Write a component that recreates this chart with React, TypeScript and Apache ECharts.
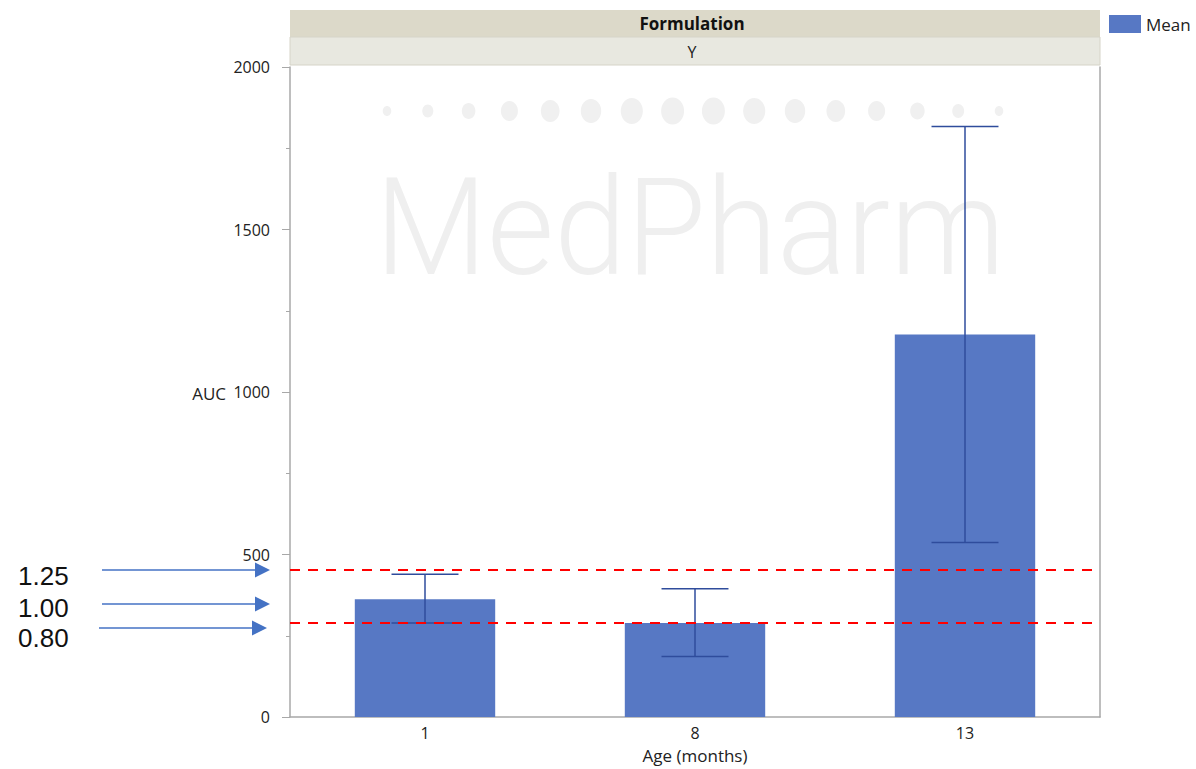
import React, { useEffect, useRef } from "react";
import * as echarts from "echarts";

const categories = ["1", "8", "13"];
const means = [362, 289, 1177];
const errLow = [289, 186, 537];
const errHigh = [439, 395, 1817];
const refLines = [453, 290];
const ratioLabels = ["1.25", "1.00", "0.80"];
const yTicks = { min: 0, max: 2000, interval: 500 };

const FONT = "'Open Sans', 'Noto Sans', sans-serif";
const BAR = "#5778c4";
const ERR = "#2f4c9c";
const ARROW = "#4472c4";

export default function App() {
  const ref = useRef<HTMLDivElement>(null);
  useEffect(() => {
    if (!ref.current) return;
    const chart = echarts.init(ref.current, null, { renderer: "svg" });

    const dotR = [5, 6.5, 8, 10, 11, 12, 13, 13.5, 13.5, 13, 12, 11, 10, 8.5, 7, 5];
    const dots = dotR.map((r, i) => ({
      type: "ellipse",
      silent: true,
      z: -10,
      shape: { cx: 387 + i * 40.8, cy: 111, rx: r * 0.85, ry: r },
      style: { fill: "#f0f0f0" },
    }));

    const arrowY = [570, 604, 628];
    const labelY = [576, 608, 638];
    const arrows: any[] = [];
    ratioLabels.forEach((lab, i) => {
      const y = arrowY[i];
      const x0 = i === 2 ? 99 : 102;
      const tip = i === 2 ? 267 : 270;
      arrows.push({
        type: "text",
        style: {
          text: lab,
          x: 18,
          y: labelY[i],
          fill: "#111",
          font: `26px 'Liberation Sans', Arial, sans-serif`,
          textVerticalAlign: "middle",
        },
      });
      arrows.push({
        type: "line",
        shape: { x1: x0, y1: y, x2: tip - 14, y2: y },
        style: { stroke: ARROW, lineWidth: 1.5 },
      });
      arrows.push({
        type: "polygon",
        shape: { points: [[tip - 15, y - 7.5], [tip, y], [tip - 15, y + 7.5]] },
        style: { fill: ARROW },
      });
    });

    const option: any = {
      animation: false,
      textStyle: { fontFamily: FONT },
      grid: { left: 290, right: 96, top: 67, bottom: 51, containLabel: false },
      legend: {
        left: 1109,
        top: 15,
        padding: 0,
        itemWidth: 32,
        itemHeight: 18,
        itemGap: 4,
        textStyle: { fontSize: 17, color: "#222", fontFamily: FONT },
        data: [{ name: "Mean", icon: "rect" }],
      },
      xAxis: {
        type: "category",
        data: categories,
        axisLine: { show: true, lineStyle: { color: "#a8a8a8", width: 1.5 } },
        axisTick: { show: false },
        axisLabel: { fontSize: 16, color: "#222", margin: 8 },
        name: "Age (months)",
        nameLocation: "middle",
        nameGap: 30,
        nameTextStyle: { fontSize: 17, color: "#222" },
      },
      yAxis: [
        {
          type: "value",
          min: yTicks.min,
          max: yTicks.max,
          interval: yTicks.interval,
          axisLine: { show: true, lineStyle: { color: "#a8a8a8", width: 1.5 } },
          axisTick: { show: true, length: 8, lineStyle: { color: "#a8a8a8" } },
          minorTick: { show: true, splitNumber: 2, length: 4, lineStyle: { color: "#a8a8a8" } },
          axisLabel: { fontSize: 16, color: "#222", margin: 20, formatter: (v: number) => String(v) },
          splitLine: { show: false },
        },
        {
          type: "value",
          position: "right",
          min: yTicks.min,
          max: yTicks.max,
          interval: yTicks.interval,
          axisLine: { show: true, lineStyle: { color: "#a8a8a8", width: 1.5 } },
          axisTick: { show: false },
          axisLabel: { show: false },
          splitLine: { show: false },
        },
      ],
      series: [
        {
          name: "Mean",
          type: "bar",
          data: means,
          barWidth: "52%",
          itemStyle: { color: BAR },
          z: 2,
        },
        {
          name: "Error",
          type: "custom",
          z: 3,
          data: categories.map((_, i) => [i, errLow[i], errHigh[i]]),
          renderItem: (params: any, api: any) => {
            const c = api.value(0);
            const lo = api.coord([c, api.value(1)]);
            const hi = api.coord([c, api.value(2)]);
            const half = api.size([1, 0])[0] * 0.124;
            const st = { stroke: ERR, lineWidth: 1.5 };
            return {
              type: "group",
              children: [
                { type: "line", shape: { x1: hi[0], y1: hi[1], x2: lo[0], y2: lo[1] }, style: st },
                { type: "line", shape: { x1: hi[0] - half, y1: hi[1], x2: hi[0] + half, y2: hi[1] }, style: st },
                { type: "line", shape: { x1: lo[0] - half, y1: lo[1], x2: lo[0] + half, y2: lo[1] }, style: st },
              ],
            };
          },
          markLine: {
            silent: true,
            symbol: "none",
            label: { show: false },
            lineStyle: { color: "#ff0000", type: [10, 8], width: 2 },
            data: refLines.map((v) => ({ yAxis: v })),
          },
        },
      ],
      graphic: [
        ...dots,
        {
          type: "text",
          silent: true,
          z: -10,
          x: 375,
          y: 295,
          scaleX: 0.96,
          style: {
            text: "MedPharm",
            fill: "#efefef",
            font: `300 135px Roboto, sans-serif`,
            textVerticalAlign: "bottom",
          },
        },
        {
          type: "rect",
          shape: { x: 290, y: 10, width: 810, height: 27 },
          style: { fill: "#dcd9c9" },
        },
        {
          type: "rect",
          shape: { x: 290, y: 37, width: 810, height: 28 },
          style: { fill: "#e8e8e0", stroke: "#d6d4c8", lineWidth: 1 },
        },
        {
          type: "text",
          style: {
            text: "Formulation",
            x: 692,
            y: 23.5,
            fill: "#111",
            font: `bold 17px ${FONT}`,
            textAlign: "center",
            textVerticalAlign: "middle",
          },
        },
        {
          type: "text",
          style: {
            text: "Y",
            x: 692,
            y: 52,
            fill: "#222",
            font: `16px ${FONT}`,
            textAlign: "center",
            textVerticalAlign: "middle",
          },
        },
        {
          type: "text",
          style: {
            text: "AUC",
            x: 226,
            y: 393,
            fill: "#222",
            font: `17px ${FONT}`,
            textAlign: "right",
            textVerticalAlign: "middle",
          },
        },
        ...arrows,
      ],
    };
    chart.setOption(option);
    return () => chart.dispose();
  }, []);
  return (
    <div
      ref={ref}
      style={{ position: "fixed", left: 0, top: 0, width: 1196, height: 769, background: "#fff" }}
    />
  );
}
